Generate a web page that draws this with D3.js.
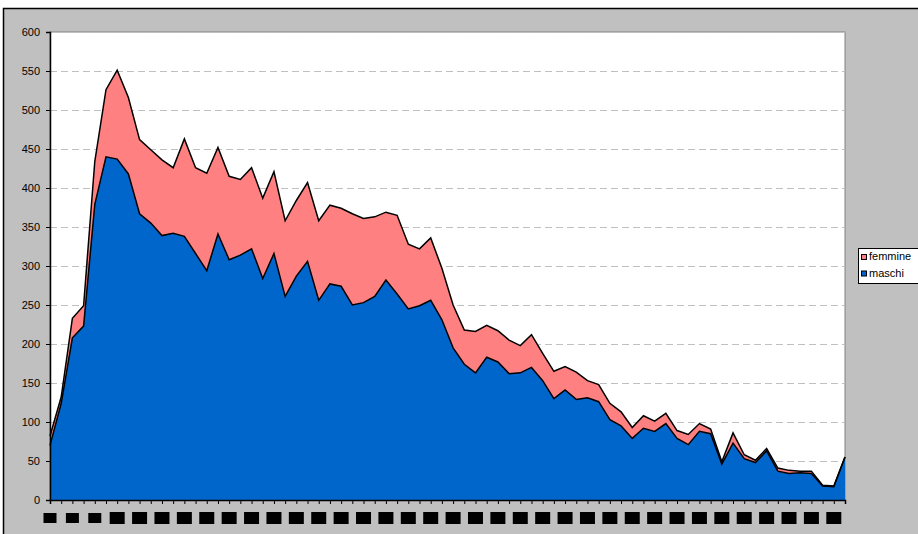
<!DOCTYPE html>
<meta charset="utf-8">
<style>
body { margin: 0; background: #fff; }
svg { display: block; font-family: "Liberation Sans", Arial, sans-serif; }
</style>
<body>
<script src="https://d3js.org/d3.v7.min.js"></script>
<script>
var width = 918,
    height = 534;

// 72 categorie sull'asse x (etichette illeggibili nel grafico originale)
var categorie = d3.range(72);

var maschi = [70,124,208,223,379,440,437,418,367,355,339,342,338,316,294,341,308,314,322,284,
  316,261,287,306,256,277,274,250,253,261,282,264,245,249,256,231,195,174,163,183,
  177,162,163,170,153,130,141,129,131,126,103,95,79,92,88,98,79,71,88,85,
  46,73,53,48,63,37,34,35,34,18,17,55];

var femmine = [12,8,25,26,55,86,114,98,95,94,97,84,125,110,125,111,107,97,104,103,
  105,97,97,101,102,101,100,117,108,102,87,101,83,73,80,66,55,44,53,41,
  40,43,35,42,35,35,30,35,22,22,21,18,14,16,13,13,10,13,10,6,
  3,13,5,3,3,4,4,2,3,1,1,0];

var yTicks = [0,50,100,150,200,250,300,350,400,450,500,550,600];

var serie = ["maschi", "femmine"];
var colori = { maschi: "#0066CC", femmine: "#FF8080" };
var legenda = ["femmine", "maschi"];

var righe = categorie.map(function(c, i) {
  return { cat: c, maschi: maschi[i], femmine: femmine[i] };
});

var plot = { left: 50, right: 845, top: 32, bottom: 500 };

var svg = d3.select("body").append("svg")
    .attr("width", width)
    .attr("height", height);

// cornice del grafico
svg.append("rect")
    .attr("x", 3.5).attr("y", 8.5)
    .attr("width", width + 10).attr("height", height + 10)
    .attr("fill", "#C0C0C0")
    .attr("stroke", "#000")
    .attr("stroke-width", 1.5);

var x = d3.scalePoint()
    .domain(categorie)
    .range([plot.left, plot.right]);

var y = d3.scaleLinear()
    .domain([0, 600])
    .range([plot.bottom, plot.top]);

// area del tracciato
svg.append("rect")
    .attr("x", plot.left).attr("y", plot.top)
    .attr("width", plot.right - plot.left)
    .attr("height", plot.bottom - plot.top)
    .attr("fill", "#fff")
    .attr("stroke", "#808080")
    .attr("stroke-width", 1);

// griglia tratteggiata
svg.append("g")
  .selectAll("line")
  .data(yTicks.filter(function(d) { return d > 0; }))
  .join("line")
    .attr("x1", plot.left).attr("x2", plot.right)
    .attr("y1", function(d) { return y(d) + 0.5; })
    .attr("y2", function(d) { return y(d) + 0.5; })
    .attr("stroke", "#C0C0C0")
    .attr("stroke-width", 1)
    .attr("stroke-dasharray", "7,4");

var stack = d3.stack().keys(serie)(righe);

var area = d3.area()
    .x(function(d) { return x(d.data.cat); })
    .y0(function(d) { return y(d[0]); })
    .y1(function(d) { return y(d[1]); });

var bordo = d3.line()
    .x(function(d) { return x(d.data.cat); })
    .y(function(d) { return y(d[1]); });

svg.append("g")
  .selectAll("path.area")
  .data(stack)
  .join("path")
    .attr("class", "area")
    .attr("fill", function(s) { return colori[s.key]; })
    .attr("d", area);

svg.append("g")
  .selectAll("path.bordo")
  .data(stack)
  .join("path")
    .attr("class", "bordo")
    .attr("fill", "none")
    .attr("stroke", "#000")
    .attr("stroke-width", 1.5)
    .attr("stroke-linejoin", "miter")
    .attr("d", bordo);

// asse y
var yAxis = svg.append("g")
    .attr("transform", "translate(" + plot.left + ",0)")
    .call(d3.axisLeft(y).tickValues(yTicks).tickSize(4).tickPadding(6));
yAxis.select(".domain").attr("stroke", "#000").attr("stroke-width", 1.5);
yAxis.selectAll("text").attr("font-size", 11).attr("fill", "#000")
    .attr("font-family", "'Liberation Sans', Arial, sans-serif");

// asse x
var xAxis = svg.append("g")
    .attr("transform", "translate(0," + plot.bottom + ")")
    .call(d3.axisBottom(x).tickSize(4).tickFormat(""));
xAxis.select(".domain").attr("stroke", "#000").attr("stroke-width", 1.5);

// etichette x coperte (riquadri neri)
svg.append("g")
  .selectAll("rect")
  .data(categorie.filter(function(c, i) { return i % 2 === 0; }))
  .join("rect")
    .attr("x", function(c, i) { return x(c) - (i < 3 ? 6.5 : 7.5); })
    .attr("y", function(c, i) { return i < 3 ? 513 : 512; })
    .attr("width", function(c, i) { return i < 3 ? 13 : 15; })
    .attr("height", function(c, i) { return i < 3 ? 10 : 12; })
    .attr("fill", "#000");

// legenda
var leg = svg.append("g");
leg.append("rect")
    .attr("x", 858.5).attr("y", 248.5)
    .attr("width", 80).attr("height", 35)
    .attr("fill", "#fff")
    .attr("stroke", "#000")
    .attr("stroke-width", 1);

var voci = leg.selectAll("g.voce")
  .data(legenda)
  .join("g")
    .attr("class", "voce")
    .attr("transform", function(d, i) { return "translate(861," + (254 + i * 16.5) + ")"; });

voci.append("rect")
    .attr("x", 0.5).attr("y", 0.5)
    .attr("width", 5).attr("height", 5)
    .attr("fill", function(d) { return colori[d]; })
    .attr("stroke", "#000")
    .attr("stroke-width", 1);

voci.append("text")
    .attr("x", 8).attr("y", 6)
    .attr("font-size", 11)
    .attr("fill", "#000")
    .text(function(d) { return d; });
</script>
</body>
